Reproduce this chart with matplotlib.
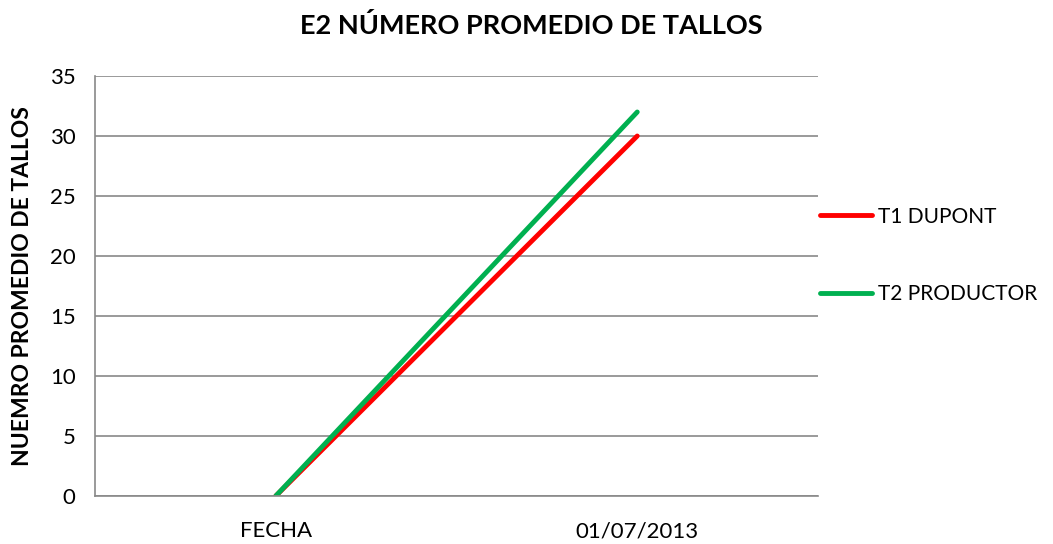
import matplotlib
matplotlib.use("Agg")
import matplotlib.pyplot as plt

categories = ["FECHA", "01/07/2013"]
t1_dupont = [0, 30]
t2_productor = [0, 32]
series_names = ["T1 DUPONT", "T2 PRODUCTOR"]
yticks = [0, 5, 10, 15, 20, 25, 30, 35]

plt.rcParams["font.family"] = ["Lato", "DejaVu Sans"]

fig = plt.figure(figsize=(10.53, 5.44), dpi=100)
ax = fig.add_axes([95 / 1053, 48 / 544, 723 / 1053, 420 / 544])

x = range(len(categories))
ax.plot(x, t1_dupont, color="#ff0000", lw=3.5, solid_capstyle="round", label=series_names[0])
ax.plot(x, t2_productor, color="#00b050", lw=3.5, solid_capstyle="round", label=series_names[1])

ax.set_xlim(-0.5, len(categories) - 0.5)
ax.set_ylim(0, 35)
ax.set_yticks(yticks)
ax.set_xticks(list(x))
ax.set_xticklabels(categories)
ax.tick_params(length=0, labelsize=16, pad=14)
ax.tick_params(axis="x", pad=18)
ax.grid(axis="y", color="#898989", lw=1.2)
ax.set_axisbelow(True)
for side in ["top", "right"]:
    ax.spines[side].set_visible(False)
for side in ["left", "bottom"]:
    ax.spines[side].set_color("#898989")
    ax.spines[side].set_linewidth(1.2)

ax.set_ylabel("NUEMRO PROMEDIO DE TALLOS", fontsize=16.5, fontweight="bold", labelpad=12)
fig.suptitle("E2 NÚMERO PROMEDIO DE TALLOS", x=531 / 1053, y=1 - 25 / 544,
             va="center", fontsize=19.5, fontweight="bold")

ax.legend(loc="center left", bbox_to_anchor=(1.0, 0.573), frameon=False, fontsize=15,
          handlelength=2.5, handletextpad=0.3, labelspacing=2.75, borderaxespad=0.1,
          borderpad=0)

fig.savefig("out.png", dpi=100)
